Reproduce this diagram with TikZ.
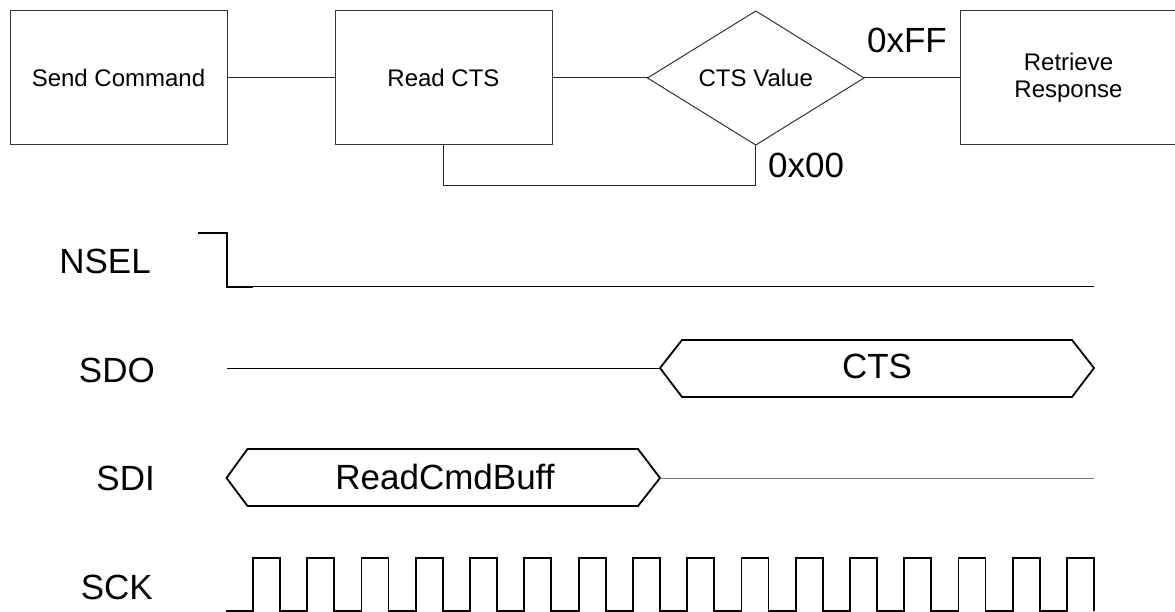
\documentclass[tikz,border=0pt]{standalone}
\usepackage{fontspec}
\setmainfont{Liberation Sans}
\usetikzlibrary{shapes.geometric}
\begin{document}
\begin{tikzpicture}[x=1pt,y=-1pt,
  box/.style={draw=black!80, line width=1pt, minimum width=217pt, minimum height=134pt, inner sep=0pt, outer sep=0pt, font=\fontsize{24}{27}\selectfont, align=center},
  dec/.style={draw=black!80, line width=1pt, shape=diamond, minimum width=216.5pt, minimum height=134pt, inner sep=0pt, outer sep=0pt, font=\fontsize{24}{27}\selectfont},
  link/.style={draw=black!85, line width=1pt},
  big/.style={font=\fontsize{35}{40}\selectfont, inner sep=0pt},
  sig/.style={line width=1.8pt, line join=miter},
  thinsig/.style={line width=1pt},
]
\useasboundingbox (0,0) rectangle (1175,612);
% flow chart
\node[box] (send) at (118.5,78) {Send Command};
\node[box] (read) at (443.5,78) {Read CTS};
\node[dec] (cts) at (755.75,78) {CTS Value};
\node[box] (ret) at (1068.5,78) {Retrieve\\Response};
\draw[link] (send.east) -- (read.west);
\draw[link] (read.east) -- (cts.west);
\draw[link] (cts.east) -- (ret.west);
\draw[link] (cts.south) -- ++(0,41) -| (read.south);
\node[big, anchor=base east] (ff) at (947,53) {0xFF};
\node[big, anchor=base west] (zz) at (768,178) {0x00};
% signal labels
\node[big, anchor=base east] (lnsel) at (151,274) {NSEL};
\node[big, anchor=base east] (lsdo) at (155,382) {SDO};
\node[big, anchor=base east] (lsdi) at (155,490) {SDI};
\node[big, anchor=base east] (lsck) at (153,599) {SCK};
% NSEL
\draw[sig] (198,233) -- (227,233) -- (227,287) -- (253,287);
\draw[thinsig] (253,287) -- (1094,287);
% SDO
\draw[thinsig] (226.5,368) -- (660,368);
\draw[sig] (660,368) -- (682,340) -- (1072,340) -- (1094,368) -- (1072,397) -- (682,397) -- cycle;
\node[big] (tcts) at (877,366) {CTS};
% SDI
\draw[sig] (226.5,478) -- (247.5,449) -- (638,449) -- (660,478) -- (638,506) -- (247.5,506) -- cycle;
\node[big] (tcmd) at (445,477) {ReadCmdBuff};
\draw[thinsig, black!55] (660,478) -- (1094,478);
% SCK
\draw[sig] (226,611) \foreach \i in {0,...,15} { -- ({253+54.27*\i},611) -- ++(0,-53) -- ++(27,0) -- ++(0,53) };
\end{tikzpicture}
\end{document}
